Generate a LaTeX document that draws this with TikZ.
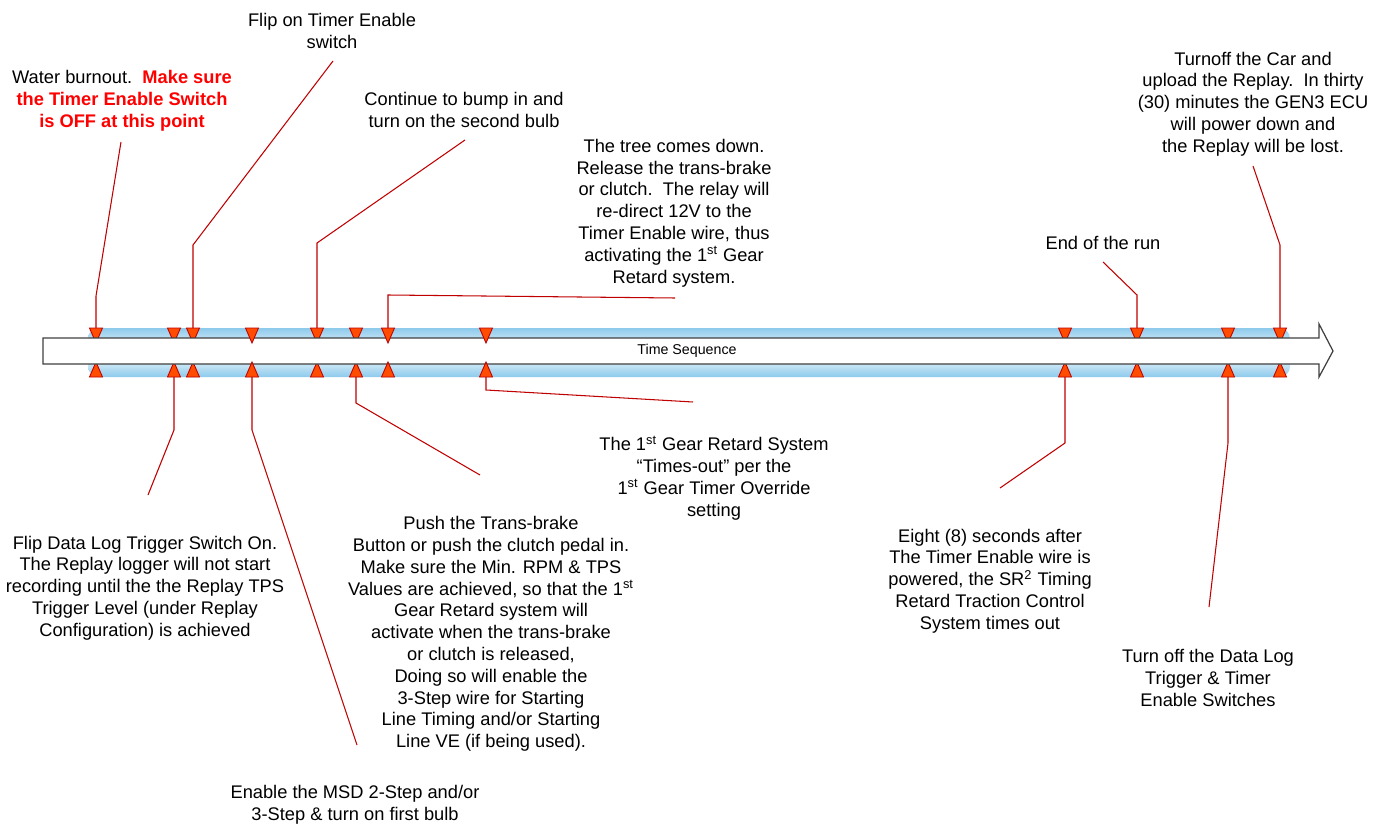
\documentclass[tikz,border=0pt]{standalone}
\usepackage{fontspec}
\setmainfont{Liberation Sans}
\usepackage{xcolor}

\definecolor{bandblue}{RGB}{141,202,236}
\definecolor{calloutred}{RGB}{192,0,0}
\definecolor{markerfill}{RGB}{255,76,0}
\definecolor{warnred}{RGB}{255,0,0}
\definecolor{arrowgray}{RGB}{64,64,64}

\tikzset{
  note/.style={align=center, inner sep=0pt, font=\fontsize{10.4}{12.4}\selectfont},
  callout/.style={calloutred, line width=0.6pt},
  marker/.style={fill=markerfill, draw=calloutred, line width=0.5pt, line join=miter},
}

\begin{document}
\begin{tikzpicture}[x=0.02cm, y=-0.02cm]
        \useasboundingbox (0,0) rectangle (1385,827);

        % Band behind the arrow
        \shade[top color=bandblue, bottom color=bandblue, middle color=white, rounded corners=6pt]
          (88,328) rectangle (1290,377);

        % Markers behind the arrow
        \foreach \x in {96,174,193,317,356,1065,1137,1228,1280} {
          \draw[marker] (\x-6.5,328) -- (\x+6.5,328) -- (\x,343) -- cycle;
          \draw[marker] (\x-6.5,377) -- (\x+6.5,377) -- (\x,362) -- cycle;
        }

        % Time arrow
        \draw[arrowgray, line width=0.7pt, fill=white]
          (43,338) -- (1319,338) -- (1319,324) -- (1333,351) -- (1319,377) -- (1319,364) -- (43,364) -- cycle;
        \node (seq) at (687,351) {\fontsize{8.1}{9.7}\selectfont Time Sequence};

        % Markers in front of the arrow
        \foreach \x in {252,388,486} {
          \draw[marker] (\x-6.5,328) -- (\x+6.5,328) -- (\x,343) -- cycle;
          \draw[marker] (\x-6.5,377) -- (\x+6.5,377) -- (\x,362) -- cycle;
        }

        % Points on the arrow
        \coordinate (burnT) at (96,328);
        \coordinate (timerT) at (193,328);
        \coordinate (bumpT) at (317,328);
        \coordinate (treeT) at (388,328);
        \coordinate (endT) at (1137,328);
        \coordinate (carT) at (1280,328);
        \coordinate (logB) at (174,377);
        \coordinate (msdB) at (252,377);
        \coordinate (brakeB) at (356,377);
        \coordinate (timeoutB) at (486,377);
        \coordinate (eightB) at (1065,377);
        \coordinate (offB) at (1228,377);

        % Free ends of the callouts
        \coordinate (burnEnd) at (121,142);
        \coordinate (timerEnd) at (333,61);
        \coordinate (bumpEnd) at (465,140);
        \coordinate (treeEnd) at (675,298);
        \coordinate (endEnd) at (1103,262);
        \coordinate (carEnd) at (1253,166);
        \coordinate (logEnd) at (148,495);
        \coordinate (msdEnd) at (357,745);
        \coordinate (brakeEnd) at (480,475);
        \coordinate (timeoutEnd) at (693,402);
        \coordinate (eightEnd) at (1000,488);
        \coordinate (offEnd) at (1209,607);

        % Callouts above
        \draw[callout] (burnT) -- ++(0,-32) -- (burnEnd);
        \draw[callout] (timerT) -- ++(0,-83) -- (timerEnd);
        \draw[callout] (bumpT) -- ++(0,-85) -- (bumpEnd);
        \draw[callout] (treeT) -- ++(0,-33) -- (treeEnd);
        \draw[callout] (endT) -- ++(0,-33) -- (endEnd);
        \draw[callout] (carT) -- ++(0,-83) -- (carEnd);

        % Callouts below
        \draw[callout] (logB) -- ++(0,53) -- (logEnd);
        \draw[callout] (msdB) -- ++(0,53) -- (msdEnd);
        \draw[callout] (brakeB) -- ++(0,26) -- (brakeEnd);
        \draw[callout] (timeoutB) -- ++(0,13) -- (timeoutEnd);
        \draw[callout] (eightB) -- ++(0,66) -- (eightEnd);
        \draw[callout] (offB) -- ++(0,66) -- (offEnd);

        % Notes above
        \node[note] (burn) at (122,101) {Water burnout.\ \ {\bfseries\color{warnred}Make sure}\\
          {\bfseries\color{warnred}the Timer Enable Switch}\\
          {\bfseries\color{warnred}is OFF at this point}};
        \node[note] (timer) at (332,31) {Flip on Timer Enable\\switch};
        \node[note] (bump) at (464,110) {Continue to bump in and\\turn on the second bulb};
        \node[note] (tree) at (674,213) {The tree comes down.\\Release the trans-brake\\
          or clutch.\ \ The relay will\\re-direct 12V to the\\Timer Enable wire, thus\\
          activating the 1\textsuperscript{st} Gear\\Retard system.};
        \node[note] (runend) at (1103,243) {End of the run};
        \node[note] (car) at (1253,104) {Turnoff the Car and\\upload the Replay.\ \ In thirty\\
          (30) minutes the GEN3 ECU\\will power down and\\the Replay will be lost.};

        % Notes below
        \node[note] (log) at (145,588) {Flip Data Log Trigger Switch On.\\The Replay logger will not start\\
          recording until the the Replay TPS\\Trigger Level (under Replay\\Configuration) is achieved};
        \node[note] (brake) at (491,634) {Push the Trans-brake\\Button or push the clutch pedal in.\\
          Make sure the Min. RPM \& TPS\\Values are achieved, so that the 1\textsuperscript{st}\\
          Gear Retard system will\\activate when the trans-brake\\or clutch is released,\\
          Doing so will enable the\\3-Step wire for Starting\\Line Timing and/or Starting\\
          Line VE (if being used).};
        \node[note] (msd) at (355,805) {Enable the MSD 2-Step and/or\\3-Step \& turn on first bulb};
        \node[note] (timeout) at (714,478) {The 1\textsuperscript{st} Gear Retard System\\
          “Times-out” per the\\1\textsuperscript{st} Gear Timer Override\\setting};
        \node[note] (eight) at (990,581) {Eight (8) seconds after\\The Timer Enable wire is\\
          powered, the SR\textsuperscript{2} Timing\\Retard Traction Control\\System times out};
        \node[note] (off) at (1208,678) {Turn off the Data Log\\Trigger \& Timer\\Enable Switches};
      \end{tikzpicture}
\end{document}
